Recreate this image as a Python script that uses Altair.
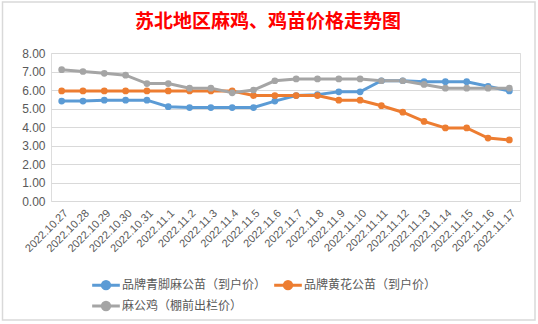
import altair as alt
import pandas as pd

chart_title = "苏北地区麻鸡、鸡苗价格走势图"

dates = ["2022.10.27", "2022.10.28", "2022.10.29", "2022.10.30", "2022.10.31",
         "2022.11.1", "2022.11.2", "2022.11.3", "2022.11.4", "2022.11.5",
         "2022.11.6", "2022.11.7", "2022.11.8", "2022.11.9", "2022.11.10",
         "2022.11.11", "2022.11.12", "2022.11.13", "2022.11.14", "2022.11.15",
         "2022.11.16", "2022.11.17"]

series_names = ["品牌青脚麻公苗（到户价）", "品牌黄花公苗（到户价）", "麻公鸡（棚前出栏价）"]

blue_vals = [5.40, 5.40, 5.45, 5.45, 5.45, 5.10, 5.05, 5.05, 5.05, 5.05,
             5.40, 5.70, 5.75, 5.90, 5.90, 6.50, 6.50, 6.45, 6.45, 6.45, 6.20, 5.95]
orange_vals = [5.95, 5.95, 5.95, 5.95, 5.95, 5.95, 5.95, 5.95, 5.95, 5.70,
               5.70, 5.70, 5.70, 5.45, 5.45, 5.15, 4.80, 4.30, 3.95, 3.95, 3.40, 3.30]
gray_vals = [7.10, 7.00, 6.90, 6.80, 6.35, 6.35, 6.10, 6.10, 5.85, 6.00,
             6.50, 6.60, 6.60, 6.60, 6.60, 6.50, 6.50, 6.30, 6.10, 6.10, 6.10, 6.10]

colors = ["#5B9BD5", "#ED7D31", "#A5A5A5"]

rows = []
for name, vals in zip(series_names, [blue_vals, orange_vals, gray_vals]):
    for d, v in zip(dates, vals):
        rows.append({"date": d, "series": name, "value": v})
df = pd.DataFrame(rows)

legend_symbol = ("M-1.5,0 L1.5,0 M-0.4,0 A0.4,0.4 0 1,0 0.4,0 "
                 "A0.4,0.4 0 1,0 -0.4,0 Z")

base = alt.Chart(df).encode(
    x=alt.X("date:N", sort=dates,
            scale=alt.Scale(type="point", padding=0.5),
            axis=alt.Axis(title=None, labelAngle=-45, labelFontSize=11,
                          labelColor="#595959", labelFont="Liberation Sans",
                          ticks=False, domain=False, grid=False, labelPadding=6)),
    y=alt.Y("value:Q", scale=alt.Scale(domain=[0, 8], nice=False),
            axis=alt.Axis(title=None, values=[0, 1, 2, 3, 4, 5, 6, 7, 8],
                          format=".2f", labelFontSize=12, labelColor="#595959",
                          labelFont="Liberation Sans",
                          ticks=False, domain=False, gridColor="#D9D9D9",
                          labelPadding=6)),
    color=alt.Color("series:N", sort=series_names,
                    scale=alt.Scale(domain=series_names, range=colors),
                    legend=alt.Legend(title=None, orient="none", legendX=44,
                                      legendY=221, columns=2, columnPadding=1,
                                      direction="horizontal",
                                      rowPadding=0,
                                      symbolType=legend_symbol, symbolSize=340,
                                      symbolStrokeWidth=3,
                                      labelFontSize=12, labelColor="#595959",
                                      labelFont="Noto Sans CJK SC",
                                      labelOffset=5)),
)

lines = base.mark_line(strokeWidth=3)
points = base.mark_circle(size=45, opacity=1)

single = pd.DataFrame({"f": [0]})

frame = alt.Chart(single).mark_rect(
    fill=None, stroke="#D9D9D9", strokeWidth=1.5
).encode(
    x=alt.value(-48.5), x2=alt.value(484), y=alt.value(-51), y2=alt.value(267)
)

title_text = alt.Chart(single).mark_text(
    font="Noto Sans CJK SC", fontSize=19, fontWeight="bold", color="#FF0000",
    align="center", baseline="middle"
).encode(
    text=alt.value(chart_title), x=alt.value(217), y=alt.value(-31)
)

chart = alt.layer(frame, title_text, lines, points).properties(
    width=469, height=148,
    autosize=alt.AutoSizeParams(type="none"),
    padding={"left": 51, "top": 53, "right": 18, "bottom": 123},
).configure_view(stroke=None).configure(background="white")

chart.save("out.html", embed_options={"renderer": "svg", "actions": False})
